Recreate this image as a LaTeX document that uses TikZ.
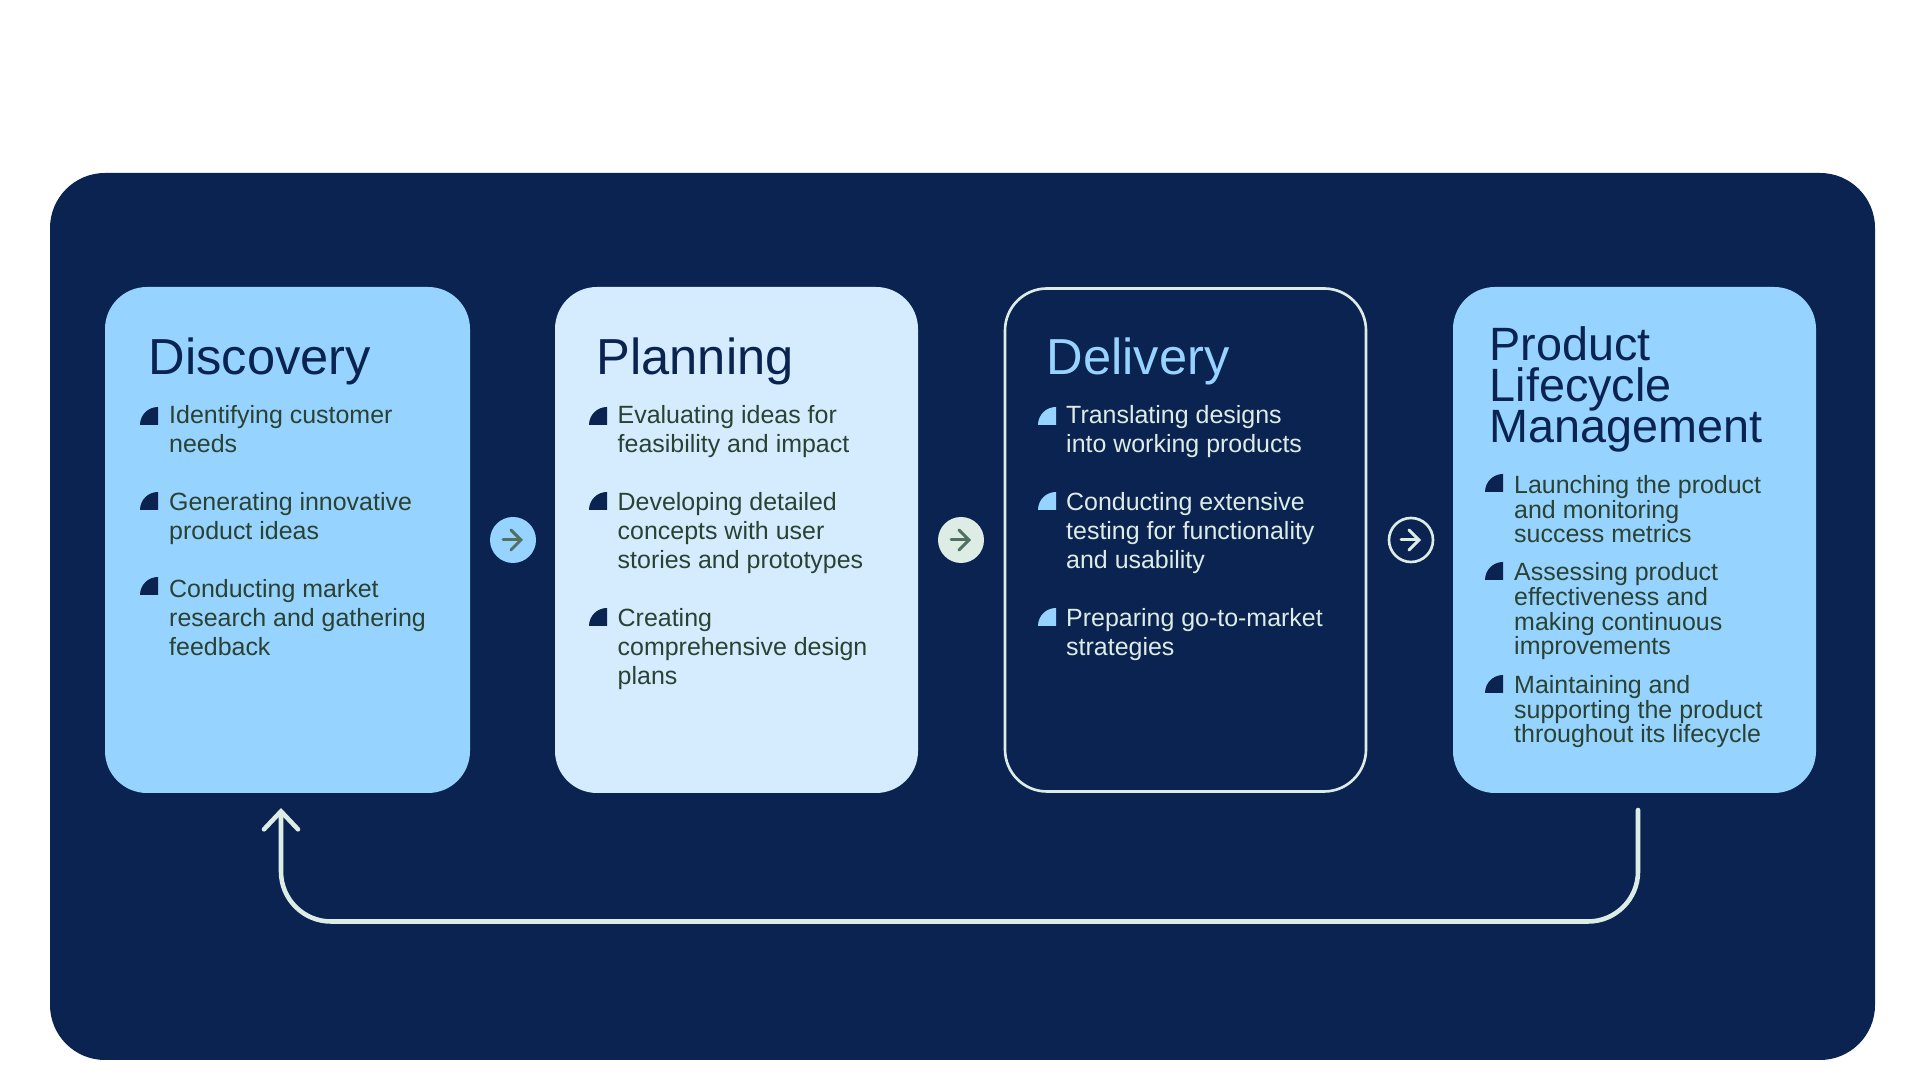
\documentclass[tikz,border=0pt]{standalone}
\usepackage{fontspec}
\setmainfont{Liberation Sans}
\usetikzlibrary{arrows.meta}
\setlength{\normallineskiplimit}{-10pt}
\setlength{\lineskiplimit}{-10pt}
\definecolor{navy}{HTML}{0B2350}
\definecolor{skyblue}{HTML}{97D3FF}
\definecolor{paleblue}{HTML}{D5ECFF}
\definecolor{palegreen}{HTML}{DDEDE6}
\definecolor{darkgreen}{HTML}{2A4232}
\definecolor{midgreen}{HTML}{52705F}
\tikzset{
  card/.style={rectangle,rounded corners=0.42cm,minimum width=3.63cm,minimum height=5.06cm,inner sep=0},
  cardtitle/.style={anchor=base west,inner sep=0,align=left,font=\fontsize{14.4pt}{11.8pt}\selectfont},
  cardtext/.style={anchor=base west,inner sep=0,align=left,font=\fontsize{7.1pt}{8.25pt}\selectfont},
  tighttext/.style={anchor=base west,inner sep=0,align=left,font=\fontsize{7.1pt}{7.1pt}\selectfont},
  stepdot/.style={circle,minimum size=0.46cm,inner sep=0},
  steparrow/.style={line width=0.85pt,line cap=round,-{Straight Barb[length=0.1cm,width=0.2cm,line cap=round]}},
}
\newcommand{\bulletmark}[3]{\fill [color=#1] (#2,#3)--(#2+0.18,#3)--(#2+0.18,#3+0.18) arc [start angle=90,end angle=180,radius=0.18]--cycle;}
\begin{document}
\begin{tikzpicture}
    \useasboundingbox (0,0) rectangle (19.2,10.8);
    \fill [color=navy,rounded corners=0.55cm] (0.5,0.2) rectangle (18.75,9.07);
    % cards
    \node (discovery) [card,fill=skyblue,minimum width=3.65cm] at (2.875,5.4) {};
    \node (planning) [card,fill=paleblue] at (7.365,5.4) {};
    \node (delivery) [card,draw=palegreen,line width=0.75pt,minimum width=3.61cm,minimum height=5.03cm] at (11.855,5.4) {};
    \node (lifecycle) [card,fill=skyblue] at (16.345,5.4) {};
    % titles
    \node (discoverytitle) [cardtitle,color=navy] at (1.48,7.05) {Discovery};
    \node (planningtitle) [cardtitle,color=navy] at (5.96,7.05) {Planning};
    \node (deliverytitle) [cardtitle,color=skyblue] at (10.46,7.05) {Delivery};
    \node (lifecycletitle) [cardtitle,color=navy,font=\fontsize{13.3pt}{11.8pt}\selectfont] at (14.89,6.37) {Product\\Lifecycle\\Management};
    % first card
    \foreach \n/\y/\l/\t in {a/6.55/6.27/{Identifying customer\\needs},b/5.70/5.40/{Generating innovative\\product ideas},c/4.85/4.24/{Conducting market\\research and gathering\\feedback}}{
      \node (discovery\n) [cardtext,color=darkgreen] at (1.685,\l) {\t};
      \bulletmark{navy}{1.40}{\y}
    }
    % second card
    \foreach \n/\y/\l/\t in {a/6.55/6.27/{Evaluating ideas for\\feasibility and impact},b/5.70/5.11/{Developing detailed\\concepts with user\\stories and prototypes},c/4.54/3.95/{Creating\\comprehensive design\\plans}}{
      \node (planning\n) [cardtext,color=darkgreen] at (6.17,\l) {\t};
      \bulletmark{navy}{5.89}{\y}
    }
    % third card
    \foreach \n/\y/\l/\t in {a/6.55/6.27/{Translating designs\\into working products},b/5.70/5.11/{Conducting extensive\\testing for functionality\\and usability},c/4.54/4.24/{Preparing go-to-market\\strategies}}{
      \node (delivery\n) [cardtext,color=palegreen] at (10.655,\l) {\t};
      \bulletmark{skyblue}{10.38}{\y}
    }
    % fourth card
    \foreach \n/\y/\l/\t in {a/5.88/5.37/{Launching the product\\and monitoring\\success metrics},b/5.00/4.25/{Assessing product\\effectiveness and\\making continuous\\improvements},c/3.87/3.37/{Maintaining and\\supporting the product\\throughout its lifecycle}}{
      \node (lifecycle\n) [tighttext,color=darkgreen] at (15.135,\l) {\t};
      \bulletmark{navy}{14.85}{\y}
    }
    % arrows between the cards
    \node (stepa) [stepdot,fill=skyblue] at (5.13,5.4) {};
    \node (stepb) [stepdot,fill=palegreen] at (9.61,5.4) {};
    \node (stepc) [stepdot,draw=palegreen,line width=0.75pt,minimum size=0.44cm] at (14.11,5.4) {};
    \draw [steparrow,color=midgreen] ([xshift=-0.1cm]stepa.center)--([xshift=0.1cm]stepa.center);
    \draw [steparrow,color=midgreen] ([xshift=-0.1cm]stepb.center)--([xshift=0.1cm]stepb.center);
    \draw [steparrow,color=palegreen] ([xshift=-0.1cm]stepc.center)--([xshift=0.1cm]stepc.center);
    % way back to the first card
    \coordinate (loopstart) at (16.38,2.7);
    \coordinate (loopend) at (2.81,2.72);
    \draw [color=palegreen,line width=1.3pt,line cap=round,rounded corners=0.5cm,-{Straight Barb[length=0.18cm,width=0.34cm,line cap=round]}] (loopstart)--(16.38,1.585)--(2.81,1.585)--(loopend);
  \end{tikzpicture}
\end{document}
